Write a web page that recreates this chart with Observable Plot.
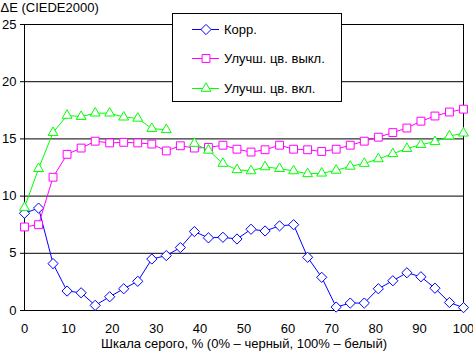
<!DOCTYPE html>
<html><head><meta charset="utf-8">
<script src="https://cdn.jsdelivr.net/npm/d3@7"></script>
<script src="https://cdn.jsdelivr.net/npm/@observablehq/plot@0.6"></script>
<style>
body{margin:0;background:#fff;font-family:"Liberation Sans",Arial,sans-serif;}
#wrap{position:relative;width:473px;height:353px;}
#legend{position:absolute;left:172px;top:13px;}
</style>
</head><body>
<div id="wrap"></div>
<script>
const xs = [0,3.2,6.5,9.7,12.9,16.1,19.4,22.6,25.8,29.0,32.3,35.5,38.7,41.9,45.2,48.4,51.6,54.8,58.1,61.3,64.5,67.7,71.0,74.2,77.4,80.6,83.9,87.1,90.3,93.5,96.8,100];
const korr = [8.5,8.95,4.1,1.7,1.55,0.45,1.2,1.9,2.55,4.5,4.8,5.5,6.9,6.35,6.4,6.25,7.1,6.95,7.4,7.5,4.65,2.9,0.3,0.65,0.65,1.9,2.6,3.3,2.95,1.95,0.7,0.25];
const enhOff = [7.3,7.5,11.65,13.65,14.2,14.8,14.65,14.7,14.65,14.55,13.95,14.4,14.2,14.25,14.45,14.1,13.85,14.05,14.45,14.1,14.05,13.9,14.1,14.45,14.8,15.15,15.55,15.95,16.55,17.0,17.35,17.6];
const enhOn = [9.0,12.4,15.55,17.05,16.95,17.25,17.25,16.9,16.8,15.9,15.8,null,14.6,14.0,12.85,12.3,12.2,12.55,12.4,12.2,11.95,12.0,12.25,12.6,12.85,13.25,13.7,14.15,14.5,14.75,15.25,15.5];
const seriesNames = ["Корр.","Улучш. цв. выкл.","Улучш. цв. вкл."];
const seriesColors = ["#0000ff","#ff00ff","#00ff00"];
const seriesSymbols = ["diamond2","square2","triangle2"];
const seriesR = [4.6,5.0,4.7];
const xTicks = [0,10,20,30,40,50,60,70,80,90,100];
const yTicks = [0,5,10,15,20,25];
const yTitle = "ΔE (CIEDE2000)";
const xTitle = "Шкала серого, % (0% – черный, 100% – белый)";

const allSeries = [korr, enhOff, enhOn];
const marks = [
  Plot.gridY(yTicks, {stroke:"#000", strokeOpacity:1}),
  Plot.ruleX([0,100], {stroke:"#000"}),
  Plot.axisY({ticks:yTicks, tickSize:4, tickPadding:4, label:null}),
  Plot.axisX({ticks:xTicks, tickSize:0, tickPadding:13, label:null})
];
allSeries.forEach((vals, i) => {
  const data = xs.map((x, j) => ({x, y: vals[j]}));
  marks.push(Plot.line(data, {x:"x", y:"y", stroke:seriesColors[i], strokeWidth:1}));
  marks.push(Plot.dot(data, {x:"x", y:"y", symbol:seriesSymbols[i], r:seriesR[i], stroke:seriesColors[i], fill:"#fff", strokeWidth:1}));
});
marks.push(Plot.text([yTitle], {text:d=>d, frameAnchor:"top-left", dx:-24, dy:-22, lineAnchor:"top", textAnchor:"start", fill:"#000"}));
marks.push(Plot.text([xTitle], {text:d=>d, frameAnchor:"bottom", dy:37, fill:"#000"}));

const chart = Plot.plot({
  width:473, height:353,
  marginLeft:24, marginRight:10, marginTop:24, marginBottom:43,
  x:{domain:[0,100]},
  y:{domain:[0,25]},
  style:{fontSize:"13px", fontFamily:'"Liberation Sans", Arial, sans-serif', color:"#000", background:"#fff"},
  marks
});
const wrap = document.getElementById("wrap");
wrap.appendChild(chart);

// legend box
const lg = d3.select(wrap).append("svg").attr("id","legend").attr("width",171).attr("height",90)
  .style("font-family",'"Liberation Sans", Arial, sans-serif').style("font-size","13px");
lg.append("rect").attr("x",0.5).attr("y",0.5).attr("width",169).attr("height",88).attr("fill","#fff").attr("stroke","#000");
const rowY = [16,45,75];
seriesNames.forEach((name, i) => {
  const g = lg.append("g").attr("transform",`translate(0,${rowY[i]})`);
  g.append("line").attr("x1",20).attr("x2",47).attr("y1",0.5).attr("y2",0.5).attr("stroke",seriesColors[i]);
  const sym = {diamond2:d3.symbolDiamond2, square2:d3.symbolSquare2, triangle2:d3.symbolTriangle2}[seriesSymbols[i]];
  g.append("path").attr("transform","translate(34,0.5)").attr("d", d3.symbol(sym, Math.PI*seriesR[i]*seriesR[i])())
    .attr("fill","#fff").attr("stroke",seriesColors[i]);
  g.append("text").attr("x",52).attr("y",0).attr("dy","0.35em").text(name);
});
</script>
</body></html>
